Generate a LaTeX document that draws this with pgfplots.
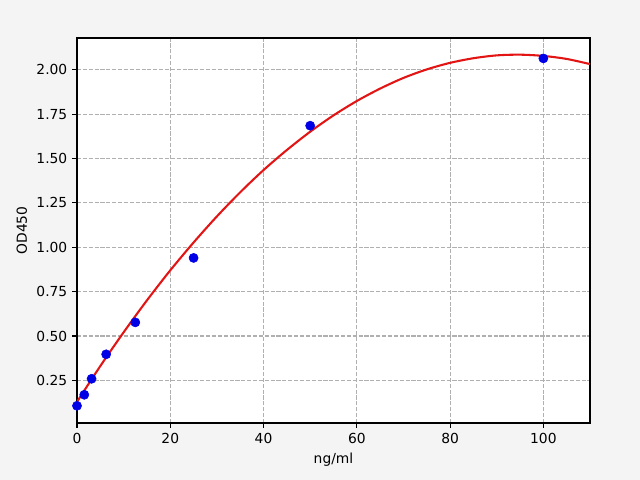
\documentclass[border=0pt]{standalone}
\usepackage{pgfplots}
\pgfplotsset{compat=1.18}
\usepackage{fontspec}
\setmainfont{DejaVu Sans}
\definecolor{bg}{RGB}{244,244,244}
\definecolor{gridc}{RGB}{176,176,176}
\definecolor{curve}{RGB}{226,20,20}
\definecolor{pts}{RGB}{0,0,230}
\begin{document}
\begin{tikzpicture}
\fill[bg] (-0.77in,-0.57in) rectangle (5.63in,4.23in);
\begin{axis}[
  at={(0,0)}, anchor=south west,
  scale only axis,
  width=5.13in, height=3.85in,
  xmin=0, xmax=110, ymin=0.01, ymax=2.179,
  axis background/.style={fill=white},
  xtick={0,20,40,60,80,100},
  ytick={0.25,0.5,0.75,1.0,1.25,1.5,1.75,2.0},
  yticklabel style={/pgf/number format/.cd, fixed, fixed zerofill, precision=2},
  /pgf/number format/assume math mode=true,
  tick align=outside, tick pos=left,
  major tick length=3.5pt,
  grid=major,
  major grid style={gridc, line width=0.8pt, dash pattern=on 2.96pt off 1.28pt},
  axis line style={black, line width=0.8pt},
  tick style={black, line width=0.8pt},
  every tick label/.append style={font=\fontsize{10pt}{12pt}\selectfont},
  label style={font=\fontsize{10pt}{12pt}\selectfont},
  xlabel={ng/ml}, ylabel={OD450},
  xlabel style={yshift=0pt},
  ylabel style={yshift=0pt},
  clip=true,
]
\addplot[curve, line width=1.5pt, smooth, no marks] coordinates {
(0,0.129) (5,0.331) (10,0.521) (15,0.701) (20,0.870) (25,1.027) (30,1.174)
(35,1.310) (40,1.435) (45,1.548) (50,1.651) (55,1.743) (60,1.824) (65,1.894)
(70,1.954) (75,2.002) (80,2.039) (85,2.065) (90,2.081) (95,2.085) (100,2.078)
(105,2.061) (110,2.032)
};
\addplot[only marks, mark=*, mark size=3.3pt, mark options={fill=pts, draw=pts}] coordinates {
(0,0.107) (1.5625,0.169) (3.125,0.259) (6.25,0.397) (12.5,0.577) (25,0.94) (50,1.685) (100,2.064)
};
\end{axis}
\end{tikzpicture}
\end{document}
